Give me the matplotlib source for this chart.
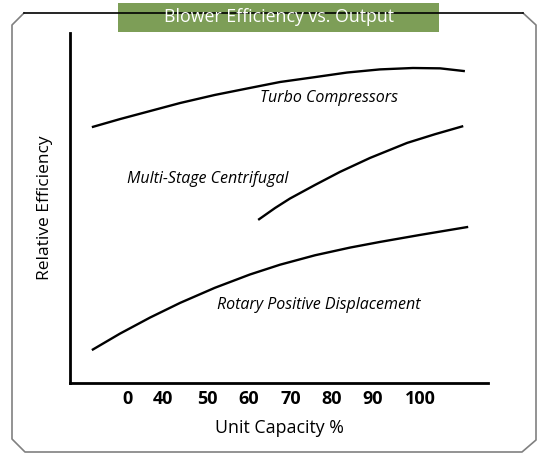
import matplotlib.pyplot as plt
from matplotlib.patches import Rectangle
from matplotlib.lines import Line2D

plt.rcParams['font.family'] = ['Open Sans', 'DejaVu Sans']

W, H = 540, 453

tick_pos = [30.85, 39.3, 50, 60, 70.2, 80.2, 90.2, 101.6]
tick_labels = ['0', '40', '50', '60', '70', '80', '90', '100']

turbo_x = [22.1, 28.9, 36.2, 43.5, 51.9, 60.4, 67.7, 76.2, 83.9, 91.9, 99.9, 106.5, 112.5]
turbo_y = [73.1, 75.4, 77.7, 80.0, 82.3, 84.3, 86.0, 87.4, 88.7, 89.6, 90.0, 89.9, 89.1]

multi_x = [62.4, 66.5, 70.1, 76.2, 82.2, 89.5, 98.5, 105.3, 112.1]
multi_y = [46.6, 50.0, 52.7, 56.6, 60.3, 64.3, 68.6, 71.1, 73.4]

rotary_x = [22.1, 28.9, 36.2, 43.5, 51.9, 60.4, 67.7, 76.2, 84.7, 91.9, 101.6, 113.3]
rotary_y = [9.4, 14.1, 18.7, 22.9, 27.2, 31.0, 33.8, 36.5, 38.7, 40.3, 42.3, 44.6]

labels = ['Turbo Compressors', 'Multi-Stage Centrifugal', 'Rotary Positive Displacement']
label_x = [79.6, 50.2, 77.2]
label_y = [81.4, 58.3, 22.3]


def px(x, y):
    return x / W, 1 - y / H


fig = plt.figure(figsize=(W / 100, H / 100), dpi=100)
ax = fig.add_axes([70 / W, (H - 383) / H, (488 - 70) / W, (383 - 33) / H])

for xs, ys in [(turbo_x, turbo_y), (multi_x, multi_y), (rotary_x, rotary_y)]:
    ax.plot(xs, ys, color='black', lw=1.7, solid_capstyle='butt',
            solid_joinstyle='round')

for t, x, y in zip(labels, label_x, label_y):
    ax.text(x, y, t, style='italic', fontsize=11.5, ha='center', va='center')

ax.set_xlim(16.8, 118.1)
ax.set_ylim(0, 100)
ax.set_xticks(tick_pos)
ax.set_xticklabels(tick_labels, fontweight='bold', fontsize=13)
ax.set_yticks([])
ax.tick_params(axis='x', length=0, pad=5)
for s in ['top', 'right']:
    ax.spines[s].set_visible(False)
for s in ['left', 'bottom']:
    ax.spines[s].set_linewidth(2)
ax.set_xlabel('Unit Capacity %', fontsize=12.8, labelpad=8)
ax.set_ylabel('Relative Efficiency', fontsize=12.5, labelpad=12)

# chamfered frame around the figure
top = [px(24, 13), px(523, 13)]
rest = [px(523, 13), px(536, 25), px(536, 440), px(522, 452),
        px(25, 452), px(12, 439), px(12, 25), px(24, 13)]
fig.add_artist(Line2D([p[0] for p in rest], [p[1] for p in rest],
                      color='#808080', lw=1.2, transform=fig.transFigure))
fig.add_artist(Line2D([p[0] for p in top], [p[1] for p in top],
                      color='black', lw=1.2, transform=fig.transFigure))

# title banner
x0, y0 = px(118, 32)
fig.add_artist(Rectangle((x0, y0), 321 / W, 29 / H, facecolor='#7d9e57',
                         edgecolor='none', transform=fig.transFigure))
fig.text(*px(278.5, 17.5), 'Blower Efficiency vs. Output', color='white',
         fontsize=12.8, ha='center', va='center')

fig.savefig('out.png', dpi=100)
